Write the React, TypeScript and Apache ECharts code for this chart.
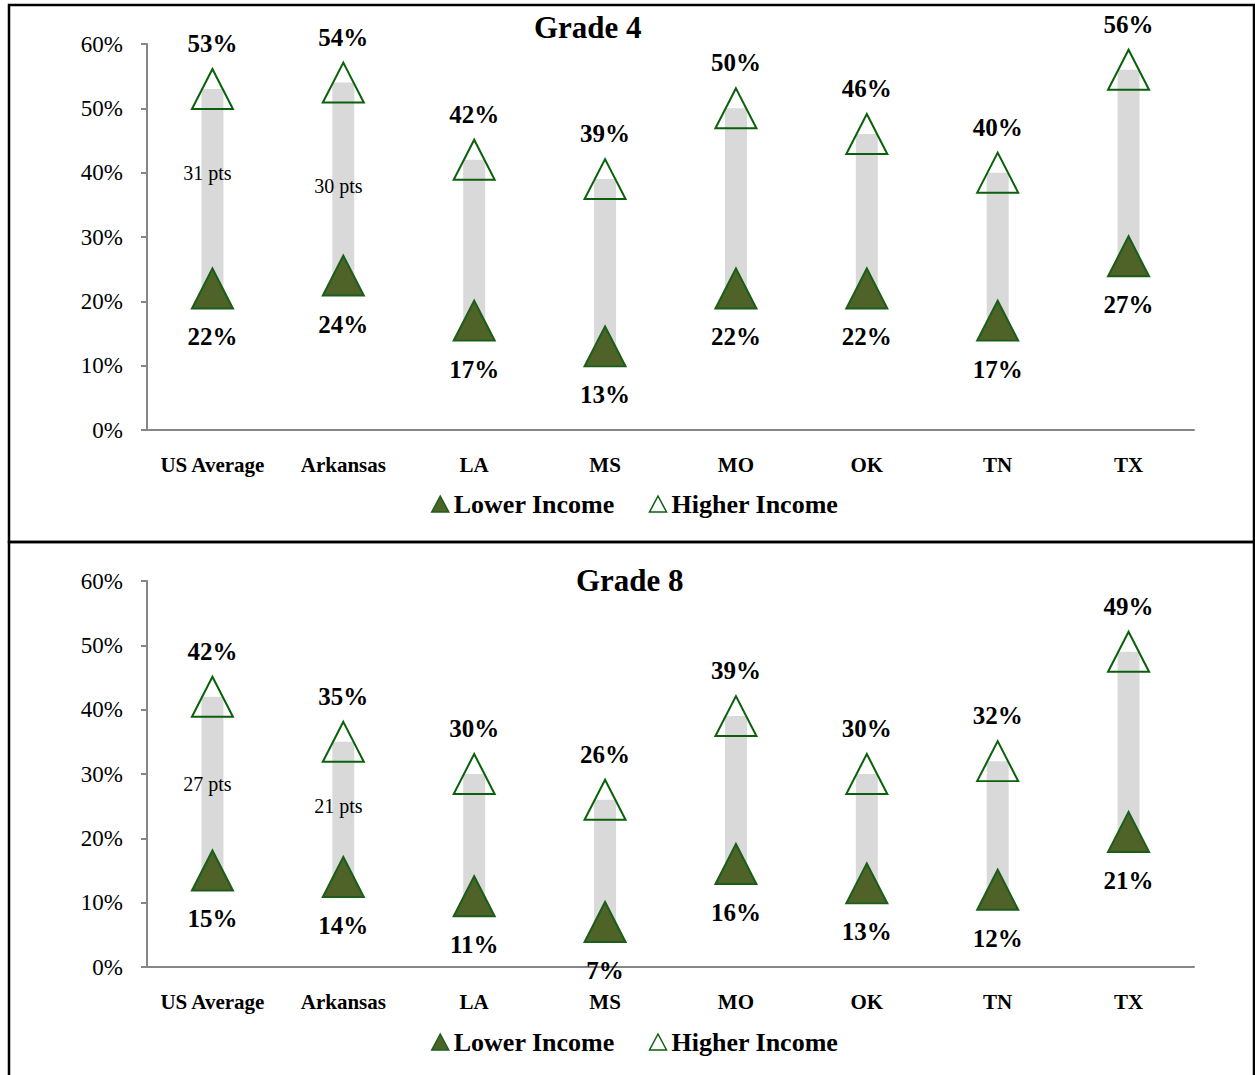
import React, { useEffect, useRef } from "react";
import * as echarts from "echarts";

const categories = ["US Average", "Arkansas", "LA", "MS", "MO", "OK", "TN", "TX"];
const g4Lower = [22, 24, 17, 13, 22, 22, 17, 27];
const g4Higher = [53, 54, 42, 39, 50, 46, 40, 56];
const g8Lower = [15, 14, 11, 7, 16, 13, 12, 21];
const g8Higher = [42, 35, 30, 26, 39, 30, 32, 49];
// positions (in %) at which the "pts" gap notes sit, first two categories only
const g4GapLabelAt = [40, 38];
const g8GapLabelAt = [28.5, 25];
const yTicks = { min: 0, max: 60, interval: 10 };

const FONT = "Liberation Serif";
const LOWER_FILL = "#4F6228";
const LOWER_BORDER = "#1A5E1A";
const HIGHER_BORDER = "#0B610B";
const AXIS_GRAY = "#868686";

function buildSeries(gi: number, lower: number[], higher: number[], gapAt: number[]) {
  const stack = "g" + gi;
  return [
    {
      type: "bar",
      name: "base" + gi,
      xAxisIndex: gi,
      yAxisIndex: gi,
      stack,
      barWidth: 22,
      silent: true,
      itemStyle: { color: "rgba(0,0,0,0)" },
      data: lower,
      z: 1,
    },
    {
      type: "bar",
      name: "range" + gi,
      xAxisIndex: gi,
      yAxisIndex: gi,
      stack,
      barWidth: 22,
      silent: true,
      itemStyle: { color: "#D9D9D9" },
      data: higher.map((h, i) => h - lower[i]),
      z: 1,
    },
    {
      type: "scatter",
      name: "Lower Income",
      xAxisIndex: gi,
      yAxisIndex: gi,
      symbol: "triangle",
      symbolSize: [41, 40],
      itemStyle: { color: LOWER_FILL, borderColor: LOWER_BORDER, borderWidth: 2, opacity: 1 },
      label: {
        show: true,
        position: "bottom",
        distance: 15,
        formatter: "{c}%",
        fontFamily: FONT,
        fontWeight: "bold",
        fontSize: 25,
        color: "#000",
      },
      data: lower,
      z: 3,
    },
    {
      type: "scatter",
      name: "Higher Income",
      xAxisIndex: gi,
      yAxisIndex: gi,
      symbol: "triangle",
      symbolSize: [41, 40],
      itemStyle: { color: "rgba(0,0,0,0)", borderColor: HIGHER_BORDER, borderWidth: 2, opacity: 1 },
      label: {
        show: true,
        position: "top",
        distance: 12,
        formatter: "{c}%",
        fontFamily: FONT,
        fontWeight: "bold",
        fontSize: 25,
        color: "#000",
      },
      data: higher,
      z: 3,
    },
    {
      type: "scatter",
      name: "gap" + gi,
      xAxisIndex: gi,
      yAxisIndex: gi,
      symbolSize: 0,
      silent: true,
      itemStyle: { opacity: 1 },
      label: {
        show: true,
        position: "inside",
        offset: [-5, 0],
        formatter: (p: any) => `${higher[p.dataIndex] - lower[p.dataIndex]} pts`,
        fontFamily: FONT,
        fontSize: 20,
        color: "#000",
        textBorderWidth: 0,
      },
      data: gapAt.map((v, i) => [i, v]),
      z: 4,
    },
  ];
}

function xAxis(gi: number) {
  return {
    type: "category",
    gridIndex: gi,
    data: categories,
    axisLine: { show: true, lineStyle: { color: AXIS_GRAY, width: 2 } },
    axisTick: { show: false },
    axisLabel: {
      margin: 24,
      fontFamily: FONT,
      fontWeight: "bold",
      fontSize: 21,
      color: "#000",
      interval: 0,
    },
  };
}

function yAxis(gi: number) {
  return {
    type: "value",
    gridIndex: gi,
    min: yTicks.min,
    max: yTicks.max,
    interval: yTicks.interval,
    axisLine: { show: true, lineStyle: { color: AXIS_GRAY, width: 2 } },
    axisTick: { show: true, length: 6, lineStyle: { color: AXIS_GRAY, width: 2 } },
    splitLine: { show: false },
    axisLabel: {
      formatter: "{value}%",
      margin: 24,
      fontFamily: FONT,
      fontSize: 23,
      color: "#000",
    },
  };
}

function legend(top: number) {
  return {
    left: 431,
    top,
    padding: 0,
    itemGap: 34,
    itemWidth: 17,
    itemHeight: 16,
    textStyle: { fontFamily: FONT, fontWeight: "bold", fontSize: 26, color: "#000" },
    data: [
      {
        name: "Lower Income",
        icon: "triangle",
        itemStyle: { color: LOWER_FILL, borderColor: LOWER_BORDER, borderWidth: 1.5 },
      },
      {
        name: "Higher Income",
        icon: "triangle",
        itemStyle: { color: "rgba(0,0,0,0)", borderColor: HIGHER_BORDER, borderWidth: 1.5 },
      },
    ],
  };
}

export default function App() {
  const ref = useRef<HTMLDivElement>(null);
  useEffect(() => {
    if (!ref.current) return;
    const chart = echarts.init(ref.current, undefined, { renderer: "svg" });
    chart.setOption({
      animation: false,
      backgroundColor: "#fff",
      textStyle: { fontFamily: FONT },
      title: [
        {
          text: "Grade 4",
          left: 534,
          top: 12,
          padding: 0,
          textStyle: { fontFamily: FONT, fontWeight: "bold", fontSize: 31, color: "#000" },
        },
        {
          text: "Grade 8",
          left: 576,
          top: 565,
          padding: 0,
          textStyle: { fontFamily: FONT, fontWeight: "bold", fontSize: 31, color: "#000" },
        },
      ],
      legend: [legend(491), legend(1029)],
      grid: [
        { left: 147, top: 44, width: 1047, height: 386 },
        { left: 147, top: 581, width: 1047, height: 386 },
      ],
      xAxis: [xAxis(0), xAxis(1)],
      yAxis: [yAxis(0), yAxis(1)],
      series: [
        ...buildSeries(0, g4Lower, g4Higher, g4GapLabelAt),
        ...buildSeries(1, g8Lower, g8Higher, g8GapLabelAt),
      ],
      graphic: [
        {
          type: "rect",
          silent: true,
          z: 100,
          shape: { x: 9, y: 5, width: 1245, height: 537 },
          style: { fill: "none", stroke: "#000", lineWidth: 2.5 },
        },
        {
          type: "rect",
          silent: true,
          z: 100,
          shape: { x: 9, y: 542, width: 1245, height: 545 },
          style: { fill: "none", stroke: "#000", lineWidth: 2.5 },
        },
      ],
    });
    return () => chart.dispose();
  }, []);
  return (
    <div
      ref={ref}
      style={{ position: "absolute", left: 0, top: 0, width: 1255, height: 1075 }}
    />
  );
}
